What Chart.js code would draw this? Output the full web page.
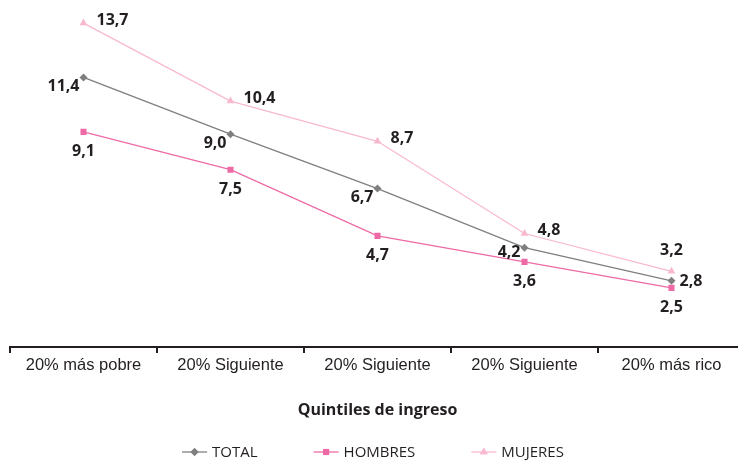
<!DOCTYPE html>
<html>
<head>
<meta charset="utf-8">
<script src="https://cdn.jsdelivr.net/npm/chart.js@4/dist/chart.umd.min.js"></script>
<style>
  html, body { margin: 0; padding: 0; overflow: hidden; background: #fff; }
  #wrap { width: 750px; height: 461px; position: relative; }
</style>
</head>
<body>
<div id="wrap"><canvas id="c"></canvas></div>
<script>
const categories = ['20% más pobre', '20% Siguiente', '20% Siguiente', '20% Siguiente', '20% más rico'];
const totalValues = [11.4, 9.0, 6.7, 4.2, 2.8];
const hombresValues = [9.1, 7.5, 4.7, 3.6, 2.5];
const mujeresValues = [13.7, 10.4, 8.7, 4.8, 3.2];
const seriesNames = ['TOTAL', 'HOMBRES', 'MUJERES'];
const axisTitle = 'Quintiles de ingreso';

const GRAY = '#7f7f7f', PINK = '#ee6aa6', LIGHT = '#f8b9d0';
const labelFont = 'bold 16px "Open Sans"';

// label placement per dataset/point
const BL = {align: 'right', dx: -4, dy: 9};
const L  = {align: 'right', dx: -4, dy: 5};
const R  = {align: 'left',  dx: 13, dy: -3};
const R2 = {align: 'left',  dx: 8,  dy: 1};
const B  = {align: 'center', dx: 0, dy: 20};
const T  = {align: 'center', dx: 0, dy: -21};
const labelPlacement = [
  [BL, BL, BL, L, R2],
  [B, B, B, B, B],
  [R, R, R, R, T]
];

const fmt = v => v.toFixed(1).replace('.', ',');

const dataLabels = {
  id: 'dataLabels',
  afterDatasetsDraw(chart) {
    const ctx = chart.ctx;
    ctx.save();
    ctx.font = labelFont;
    ctx.fillStyle = '#231f20';
    ctx.textBaseline = 'middle';
    chart.data.datasets.forEach((ds, di) => {
      const meta = chart.getDatasetMeta(di);
      meta.data.forEach((pt, i) => {
        const p = labelPlacement[di][i];
        ctx.textAlign = p.align;
        ctx.fillText(fmt(ds.data[i]), pt.x + p.dx, pt.y + p.dy);
      });
    });
    ctx.restore();
  }
};

const customLegend = {
  id: 'customLegend',
  afterDraw(chart) {
    const ctx = chart.ctx;
    ctx.save();
    ctx.font = '15px "Open Sans"';
    ctx.textBaseline = 'middle';
    ctx.textAlign = 'left';
    const lineLen = 25, gap = 5, spacing = 56, y = 452;
    const items = chart.data.datasets.map(ds => ({ds, w: lineLen + gap + ctx.measureText(ds.label).width}));
    const total = items.reduce((s, it) => s + it.w, 0) + spacing * (items.length - 1);
    let x = 373 - total / 2;
    items.forEach(it => {
      const ds = it.ds;
      ctx.strokeStyle = ds.borderColor;
      ctx.lineWidth = 1.3;
      ctx.beginPath();
      ctx.moveTo(x, y); ctx.lineTo(x + lineLen, y);
      ctx.stroke();
      ctx.fillStyle = ds.pointBackgroundColor;
      Chart.helpers.drawPoint(ctx, {pointStyle: ds.pointStyle, radius: ds.pointRadius, rotation: 0, borderWidth: 0}, x + lineLen / 2, y);
      ctx.fill();
      ctx.fillStyle = '#231f20';
      ctx.fillText(ds.label, x + lineLen + gap, y + 1);
      x += it.w + spacing;
    });
    ctx.restore();
  }
};

function mk(label, data, color, style, r) {
  return {
    label, data,
    borderColor: color, backgroundColor: color,
    pointBackgroundColor: color, pointBorderColor: color,
    pointStyle: style, pointRadius: r, pointHoverRadius: r,
    pointBorderWidth: 0,
    borderWidth: 1.3, tension: 0, fill: false
  };
}

new Chart(document.getElementById('c'), {
  type: 'line',
  data: {
    labels: categories,
    datasets: [
      mk(seriesNames[0], totalValues, GRAY, 'rectRot', 4),
      mk(seriesNames[1], hombresValues, PINK, 'rect', 4.3),
      mk(seriesNames[2], mujeresValues, LIGHT, 'triangle', 4.5)
    ]
  },
  options: {
    responsive: true,
    maintainAspectRatio: false,
    animation: false,
    layout: { padding: { left: 10, right: 5, top: 16, bottom: 0 } },
    plugins: { legend: { display: false }, tooltip: { enabled: false } },
    scales: {
      y: { display: false, min: 0, max: 14 },
      x: {
        offset: true,
        afterFit(scale) { scale.height = 114; },
        grid: { display: true, drawOnChartArea: false, drawTicks: true, tickLength: 6, color: '#231f20', lineWidth: 2, offset: true },
        border: { display: true, color: '#231f20', width: 2 },
        ticks: { color: '#231f20', font: { family: '"Liberation Sans", Arial', size: 16.5 }, padding: 3, maxRotation: 0, autoSkip: false },
        title: { display: true, text: axisTitle, color: '#231f20', font: { family: '"Open Sans"', size: 16, weight: 'bold' }, padding: { top: 0, bottom: 41 } }
      }
    }
  },
  plugins: [dataLabels, customLegend]
});
</script>
</body>
</html>
